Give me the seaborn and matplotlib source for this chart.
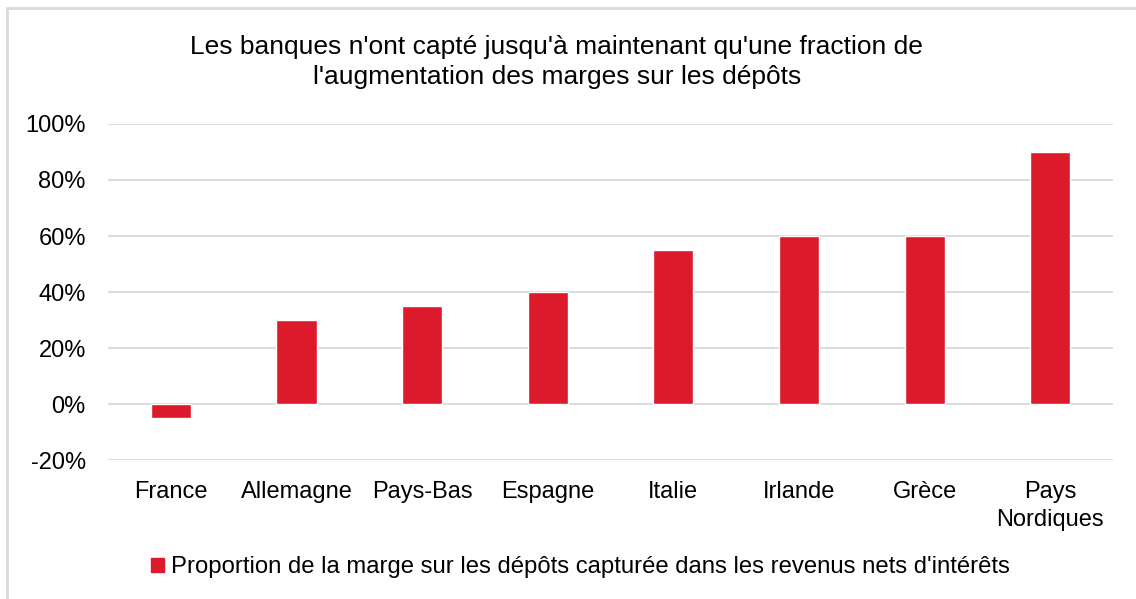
import matplotlib
matplotlib.use("Agg")
import matplotlib.pyplot as plt
import seaborn as sns
import pandas as pd
from matplotlib.ticker import PercentFormatter
from matplotlib.lines import Line2D

pays = ["France", "Allemagne", "Pays-Bas", "Espagne", "Italie", "Irlande", "Grèce", "Pays\nNordiques"]
proportion = [-5, 30, 35, 40, 55, 60, 60, 90]
serie = "Proportion de la marge sur les dépôts capturée dans les revenus nets d'intérêts"
titre = "Les banques n'ont capté jusqu'à maintenant qu'une fraction de\nl'augmentation des marges sur les dépôts"

rouge = "#DC1A2C"
gris = "#D9D9D9"

sns.set_style("white")
plt.rcParams["font.family"] = ["Liberation Sans", "DejaVu Sans"]
plt.rcParams["font.size"] = 17
plt.rcParams["axes.unicode_minus"] = False
plt.rcParams["text.color"] = "black"
plt.rcParams["xtick.color"] = "black"
plt.rcParams["ytick.color"] = "black"

df = pd.DataFrame({"pays": pays, "valeur": proportion})

fig = plt.figure(figsize=(11.36, 5.99), dpi=100)
ax = fig.add_axes([0.0951, 0.232, 0.8847, 0.561])

sns.barplot(data=df, x="pays", y="valeur", color=rouge, width=0.32,
            saturation=1, ax=ax)

ax.set_ylim(-20, 100)
ax.set_yticks(range(-20, 101, 20))
ax.yaxis.set_major_formatter(PercentFormatter(decimals=0))
ax.set_xlim(-0.5, len(pays) - 0.5)
ax.grid(axis="y", color=gris, linewidth=1.3)
ax.set_axisbelow(True)
for s in ax.spines.values():
    s.set_visible(False)
ax.tick_params(axis="y", length=0, pad=16, labelsize=17, labelcolor="black")
ax.tick_params(axis="x", length=0, pad=15, labelsize=17, labelcolor="black")
for lab in ax.get_xticklabels():
    lab.set_linespacing(1.35)
ax.set_xlabel("")
ax.set_ylabel("")

fig.text(0.490, 0.897, titre, ha="center", va="center", fontsize=19, linespacing=1.32,
         color="black")

fig.legend(handles=[plt.Rectangle((0, 0), 1, 1, color=rouge)], labels=[serie],
           loc="center", bbox_to_anchor=(0.511, 0.053), frameon=False,
           handlelength=0.55, handleheight=0.55, handletextpad=0.3, fontsize=17.2,
           labelcolor="black")

# cadre du graphique
fig.add_artist(Line2D([7 / 1136, 7 / 1136], [0, 1 - 8 / 599], color=gris, linewidth=2,
                      transform=fig.transFigure))
fig.add_artist(Line2D([7 / 1136, 1], [1 - 8 / 599, 1 - 8 / 599], color=gris, linewidth=2,
                      transform=fig.transFigure))

fig.savefig("out.png", dpi=100)
